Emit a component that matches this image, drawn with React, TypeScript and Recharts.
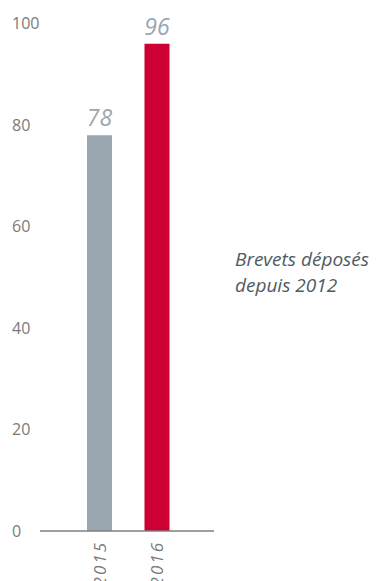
import { BarChart, Bar, XAxis, YAxis, Cell, LabelList } from "recharts";

const years = ["2015", "2016"];
const patents = [78, 96];
const barColors = ["#9aa7b0", "#cc0033"];
const yTicks = [0, 20, 40, 60, 80, 100];
const caption = ["Brevets déposés", "depuis 2012"];

const data = years.map((year, i) => ({ year, value: patents[i] }));

const FONT = "'Open Sans', 'Noto Sans', sans-serif";

const YTick = (props: any) => {
  const { y, payload } = props;
  return (
    <text x={12} y={y} dy="0.35em" textAnchor="start" fill="#7a7a7a" fontSize={16} fontFamily={FONT}>
      {payload.value}
    </text>
  );
};

const XTick = (props: any) => {
  const { x, y, payload } = props;
  return (
    <g transform={`translate(${x},${y})`}>
      <text
        transform="rotate(-90)"
        x={-2}
        y={0}
        dy="0.35em"
        textAnchor="end"
        fill="#7a7a7a"
        fontSize={17}
        fontStyle="italic"
        fontFamily={FONT}
        letterSpacing={2}
      >
        {payload.value}
      </text>
    </g>
  );
};

export default function App() {
  return (
    <div style={{ position: "fixed", top: 0, left: 0, width: 387, height: 581, background: "#fff" }}>
      <BarChart
        width={387}
        height={581}
        data={data}
        margin={{ top: 23.5, right: 173, bottom: 0, left: 0 }}
      >
        <XAxis
          dataKey="year"
          height={50}
          tick={<XTick />}
          tickLine={false}
          axisLine={{ stroke: "#7f7f7f", strokeWidth: 1.5 }}
          padding={{ left: 31, right: 28 }}
          interval={0}
        />
        <YAxis
          width={40}
          domain={[0, 100]}
          ticks={yTicks}
          tick={<YTick />}
          tickLine={false}
          axisLine={false}
          interval={0}
        />
        <Bar dataKey="value" barSize={25} isAnimationActive={false}>
          {data.map((d, i) => (
            <Cell key={d.year} fill={barColors[i]} />
          ))}
          <LabelList
            dataKey="value"
            position="top"
            offset={9}
            fill="#9aa7b0"
            fontSize={23}
            fontStyle="italic"
            fontFamily={FONT}
          />
        </Bar>
      </BarChart>
      <div
        style={{
          position: "absolute",
          left: 235,
          top: 246,
          fontFamily: FONT,
          fontStyle: "italic",
          fontSize: 19,
          lineHeight: "26px",
          color: "#4f5b62",
          whiteSpace: "nowrap",
        }}
      >
        {caption.map((line) => (
          <div key={line}>{line}</div>
        ))}
      </div>
    </div>
  );
}
